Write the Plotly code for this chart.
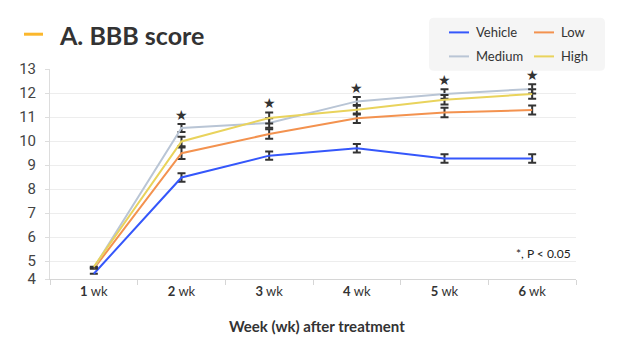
import plotly.graph_objects as go

weeks = ["1", "2", "3", "4", "5", "6"]
tick_labels = ["<b>1</b> wk", "<b>2</b> wk", "<b>3</b> wk", "<b>4</b> wk", "<b>5</b> wk", "<b>6</b> wk"]
series_names = ["Vehicle", "Low", "Medium", "High"]
vehicle = [4.47, 8.48, 9.39, 9.70, 9.27, 9.27]
low = [4.68, 9.49, 10.29, 10.95, 11.19, 11.29]
medium = [4.72, 10.54, 10.75, 11.65, 11.96, 12.17]
high = [4.76, 9.98, 10.96, 11.30, 11.72, 11.96]
vehicle_err = [None, 0.18, 0.17, 0.18, 0.18, 0.18]
low_err = [None, 0.24, 0.20, 0.20, 0.20, 0.19]
medium_err = [None, 0.17, 0.20, 0.18, 0.20, 0.19]
high_err = [None, 0.20, 0.23, 0.20, 0.20, 0.20]
significant = [False, True, True, True, True, True]
y_tickvals = [4.25, 5, 6, 7, 8, 9, 10, 11, 12, 13]
y_ticktext = ["4", "5", "6", "7", "8", "9", "10", "11", "12", "13"]

colors = ["#3557fb", "#f3924f", "#b9c5d5", "#e9d35c"]
values = [vehicle, low, medium, high]
errors = [vehicle_err, low_err, medium_err, high_err]
FONT = "Lato"

fig = go.Figure()
for name, v, e, c in zip(series_names, values, errors, colors):
    fig.add_trace(go.Scatter(
        x=weeks, y=v, name=name, mode="lines",
        line=dict(color=c, width=2),
        error_y=dict(type="data", array=e, visible=True, color="#333333", thickness=2, width=4),
        showlegend=False,
    ))

# significance stars (x given as category index)
for i, sig in enumerate(significant):
    if not sig:
        continue
    top = max(v[i] + (e[i] or 0) for v, e in zip(values, errors))
    fig.add_annotation(x=i, y=top + 0.38, text="★", showarrow=False,
                       font=dict(size=14, color="#333333", family="DejaVu Sans"))


def px(x):
    return (x - 50) / 526


def py(y):
    return (279.3 - y) / 210


# title
fig.add_shape(type="line", xref="paper", yref="paper", x0=px(24), x1=px(43),
              y0=py(34.5), y1=py(34.5), line=dict(color="#fbb72c", width=3))
fig.add_annotation(xref="paper", yref="paper", x=px(57), y=py(35.5),
                   xanchor="left", yanchor="middle", showarrow=False,
                   text="<b>A. BBB score</b>", font=dict(size=25, color="#333333", family=FONT))

# legend box
lx0, lx1, ly0, ly1 = 429, 605, 18, 71
r = 5
pts = [
    ("M", [(lx0 + r, ly0)]), ("L", [(lx1 - r, ly0)]), ("Q", [(lx1, ly0), (lx1, ly0 + r)]),
    ("L", [(lx1, ly1 - r)]), ("Q", [(lx1, ly1), (lx1 - r, ly1)]), ("L", [(lx0 + r, ly1)]),
    ("Q", [(lx0, ly1), (lx0, ly1 - r)]), ("L", [(lx0, ly0 + r)]), ("Q", [(lx0, ly0), (lx0 + r, ly0)]),
]
path = " ".join(cmd + " " + " ".join(f"{px(a)},{py(b)}" for a, b in p) for cmd, p in pts) + " Z"
fig.add_shape(type="path", xref="paper", yref="paper", path=path,
              fillcolor="#f5f5f5", line=dict(width=0), layer="below")
leg_pos = [(449, 32.7), (534, 32.7), (449, 56.7), (534, 56.7)]
for (x0, y0), name, c in zip(leg_pos, series_names, colors):
    fig.add_shape(type="line", xref="paper", yref="paper", x0=px(x0), x1=px(x0 + 20),
                  y0=py(y0), y1=py(y0), line=dict(color=c, width=2))
    fig.add_annotation(xref="paper", yref="paper", x=px(x0 + 25), y=py(y0),
                       xanchor="left", yanchor="middle", showarrow=False, text=name,
                       font=dict(size=13, color="#333333", family=FONT))

# footnote
fig.add_annotation(xref="paper", yref="paper", x=px(573), y=py(254), xanchor="right", yanchor="middle",
                   showarrow=False, text="*, P < 0.05", font=dict(size=12, color="#222222", family=FONT))
# x axis title
fig.add_annotation(xref="paper", yref="paper", x=px(317), y=py(326.5), xanchor="center", yanchor="middle",
                   showarrow=False, text="<b>Week (wk) after treatment</b>",
                   font=dict(size=15, color="#333333", family=FONT))

fig.update_layout(
    width=630, height=350,
    margin=dict(l=50, r=54, t=69.3, b=70.7, pad=0),
    paper_bgcolor="white", plot_bgcolor="white",
    font=dict(family=FONT, color="#333333"),
    showlegend=False,
)
fig.update_xaxes(
    type="category", categoryorder="array", categoryarray=weeks,
    tickvals=weeks, ticktext=tick_labels, tickson="boundaries",
    ticks="outside", ticklen=5, tickcolor="#d6d6d6",
    showline=True, linecolor="#d6d6d6", linewidth=1,
    showgrid=False, tickfont=dict(size=13, color="#333333", family=FONT),
    range=[-0.5, 5.5],
)
fig.update_yaxes(
    range=[4.25, 13], tickvals=y_tickvals, ticktext=y_ticktext,
    ticks="outside", ticklen=4, tickcolor="#dddddd",
    showline=True, linecolor="#dddddd", linewidth=1,
    showgrid=True, gridcolor="#ededed", gridwidth=1, zeroline=False,
    tickfont=dict(size=15, color="#444444", family="Roboto"), ticklabelstandoff=6,
)

fig.write_html("out.html")
